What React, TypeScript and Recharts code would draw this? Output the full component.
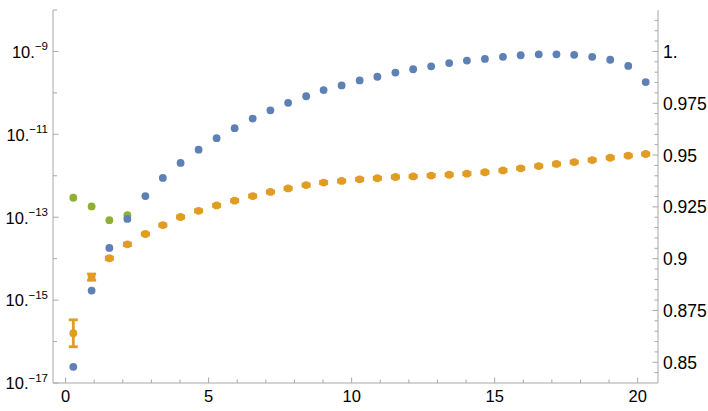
import React from 'react';
import { ScatterChart, Scatter, XAxis, YAxis, ErrorBar } from 'recharts';

// ---- data ----
const xPositions = [
  0.27, 0.91, 1.53, 2.16, 2.79, 3.4, 4.02, 4.65, 5.28, 5.91, 6.54, 7.16, 7.78, 8.41, 9.02, 9.65,
  10.28, 10.9, 11.53, 12.15, 12.78, 13.41, 14.03, 14.66, 15.29, 15.91, 16.54, 17.16, 17.78, 18.41,
  19.04, 19.67, 20.28,
];

const blueValues = [
  2.45e-17, 1.7e-15, 1.82e-14, 9.1e-14, 3.24e-13, 8.9e-13, 2.04e-12, 4.27e-12, 8.1e-12, 1.41e-11,
  2.4e-11, 3.8e-11, 5.75e-11, 8.3e-11, 1.17e-10, 1.51e-10, 2.0e-10, 2.45e-10, 3.09e-10, 3.72e-10,
  4.37e-10, 5.25e-10, 6.03e-10, 6.6e-10, 7.4e-10, 8.1e-10, 8.5e-10, 8.5e-10, 8.3e-10, 7.4e-10,
  6.3e-10, 4.47e-10, 1.82e-10,
];

const orangeValues = [
  0.864, 0.8911, 0.9002, 0.9069, 0.9119, 0.9162, 0.9201, 0.9231, 0.9257, 0.928, 0.9302, 0.9322,
  0.9339, 0.9355, 0.9367, 0.9375, 0.9383, 0.9388, 0.9394, 0.9397, 0.9401, 0.9405, 0.941, 0.9417,
  0.9426, 0.9436, 0.9447, 0.9457, 0.9466, 0.9476, 0.9487, 0.9497, 0.9505,
];

const orangeErrors = [
  0.0065, 0.0015, 0.0006, 0.0006, 0.0005, 0.0005, 0.0005, 0.0005, 0.0005, 0.0005, 0.0005, 0.0005,
  0.0005, 0.0005, 0.0005, 0.0005, 0.0005, 0.0005, 0.0005, 0.0005, 0.0005, 0.0005, 0.0005, 0.0005,
  0.0005, 0.0005, 0.0005, 0.0005, 0.0005, 0.0005, 0.0005, 0.0005, 0.0005,
];

const greenX = [0.27, 0.91, 1.53, 2.16];
const greenValues = [2.95e-13, 1.82e-13, 8.5e-14, 1.12e-13];

// ---- ticks ----
const xTicks = [0, 1, 2, 3, 4, 5, 6, 7, 8, 9, 10, 11, 12, 13, 14, 15, 16, 17, 18, 19, 20];
const xMajor = [0, 5, 10, 15, 20];
const xMajorLabels = ['0', '5', '10', '15', '20'];

const leftTicks = [1e-17, 1e-16, 1e-15, 1e-14, 1e-13, 1e-12, 1e-11, 1e-10, 1e-9, 1e-8];
const leftLabeledExponents = [-17, -15, -13, -11, -9];

const rightTicks = [
  0.845, 0.85, 0.855, 0.86, 0.865, 0.87, 0.875, 0.88, 0.885, 0.89, 0.895, 0.9, 0.905, 0.91, 0.915,
  0.92, 0.925, 0.93, 0.935, 0.94, 0.945, 0.95, 0.955, 0.96, 0.965, 0.97, 0.975, 0.98, 0.985, 0.99,
  0.995, 1.0, 1.005, 1.01, 1.015,
];
const rightMajor = [0.85, 0.875, 0.9, 0.925, 0.95, 0.975, 1.0];
const rightMajorLabels = ['0.85', '0.875', '0.9', '0.925', '0.95', '0.975', '1.'];

// ---- styles ----
const BLUE = '#5E81B5';
const ORANGE = '#E19C24';
const GREEN = '#8FB032';
const AXIS = '#a8a8a8';
const FONT = '"Liberation Sans", Arial, sans-serif';
const R = 3.9;

const blueData = xPositions.map((x, i) => ({ x, y: blueValues[i] }));
const orangeData = xPositions.map((x, i) => ({ x, y: orangeValues[i], err: orangeErrors[i] }));
const greenData = greenX.map((x, i) => ({ x, y: greenValues[i] }));

function XTick(props: any) {
  const { x, y, payload } = props;
  const idx = xMajor.findIndex((m) => Math.abs(m - payload.value) < 1e-9);
  const major = idx >= 0;
  return (
    <g>
      <line x1={x} x2={x} y1={y} y2={y - (major ? 5.5 : 3.5)} stroke={AXIS} strokeWidth={1} />
      {major && (
        <text x={x} y={y + 18.5} textAnchor="middle" fontSize={16.5} fontFamily={FONT} fill="#000">
          {xMajorLabels[idx]}
        </text>
      )}
    </g>
  );
}

function LeftTick(props: any) {
  const { x, y, payload } = props;
  const exp = Math.round(Math.log10(payload.value));
  const labeled = leftLabeledExponents.includes(exp);
  return (
    <g>
      <line x1={x} x2={x + (labeled ? 5.5 : 4)} y1={y} y2={y} stroke={AXIS} strokeWidth={1} />
      {labeled && (
        <text x={x - 5} y={y + 6.3} textAnchor="end" fontSize={16.5} fontFamily={FONT} fill="#000">
          10.
          <tspan fontSize={11.5} dy={-7.3}>
            {'\u2212' + String(-exp)}
          </tspan>
        </text>
      )}
    </g>
  );
}

function RightTick(props: any) {
  const { x, y, payload } = props;
  const idx = rightMajor.findIndex((m) => Math.abs(m - payload.value) < 1e-6);
  const major = idx >= 0;
  return (
    <g>
      <line x1={x} x2={x - (major ? 5.5 : 3.5)} y1={y} y2={y} stroke={AXIS} strokeWidth={1} />
      {major && (
        <text x={x + 5} y={y + 6.5} textAnchor="start" fontSize={17.5} fontFamily={FONT} fill="#000">
          {rightMajorLabels[idx]}
        </text>
      )}
    </g>
  );
}

const dot = (color: string) => (p: any) => <circle cx={p.cx} cy={p.cy} r={R} fill={color} />;

export default function App() {
  return (
    <div style={{ position: 'absolute', left: 0, top: 0, width: 708, height: 411, background: '#fff' }}>
      <ScatterChart width={708} height={411} margin={{ top: 10, right: 0, bottom: 0, left: 0 }}>
        <XAxis
          type="number"
          dataKey="x"
          domain={[-0.44, 20.71]}
          allowDataOverflow
          ticks={xTicks}
          interval={0}
          tickSize={0}
          tickMargin={0}
          height={28}
          axisLine={{ stroke: AXIS }}
          tickLine={false}
          tick={(p: any) => <XTick {...p} />}
        />
        <YAxis
          yAxisId="left"
          type="number"
          dataKey="y"
          scale="log"
          domain={[1e-17, 1e-8]}
          allowDataOverflow
          ticks={leftTicks}
          interval={0}
          tickSize={0}
          tickMargin={0}
          width={53}
          axisLine={{ stroke: AXIS }}
          tickLine={false}
          tick={(p: any) => <LeftTick {...p} />}
        />
        <YAxis
          yAxisId="right"
          orientation="right"
          type="number"
          dataKey="y"
          domain={[0.84, 1.02]}
          allowDataOverflow
          ticks={rightTicks}
          interval={0}
          tickSize={0}
          tickMargin={0}
          width={50}
          axisLine={{ stroke: AXIS }}
          tickLine={false}
          tick={(p: any) => <RightTick {...p} />}
        />
        <Scatter data={greenData} yAxisId="left" fill={GREEN} shape={dot(GREEN)} isAnimationActive={false} />
        <Scatter data={orangeData} yAxisId="right" fill={ORANGE} shape={dot(ORANGE)} isAnimationActive={false}>
          <ErrorBar
            dataKey="err"
            direction="y"
            width={4.5}
            stroke={ORANGE}
            strokeWidth={2.8}
            isAnimationActive={false}
          />
        </Scatter>
        <Scatter data={blueData} yAxisId="left" fill={BLUE} shape={dot(BLUE)} isAnimationActive={false} />
      </ScatterChart>
    </div>
  );
}
